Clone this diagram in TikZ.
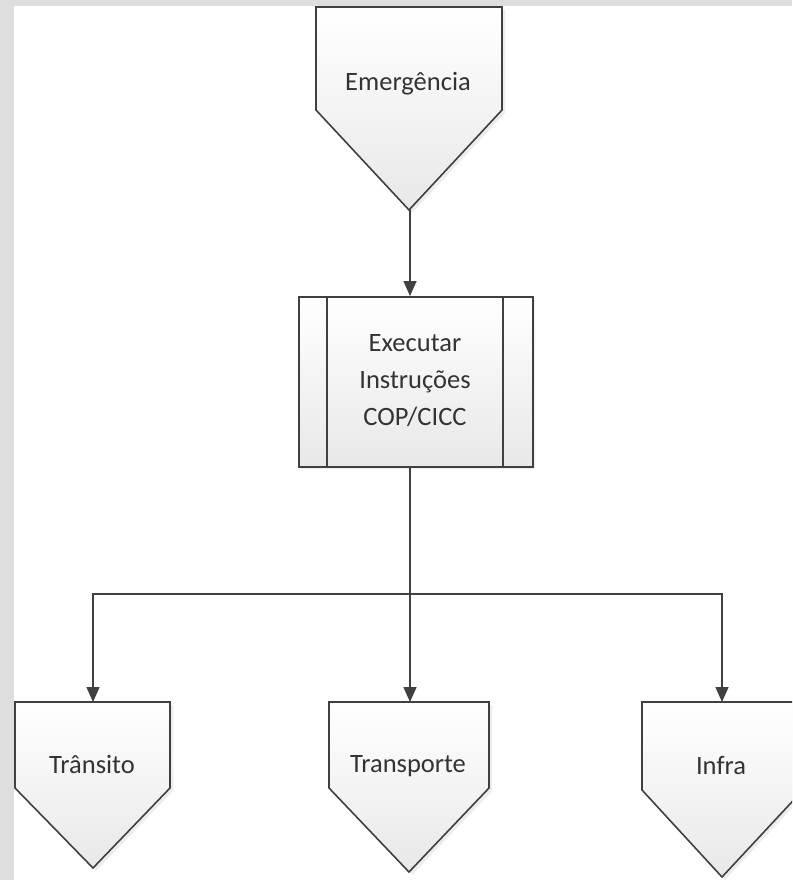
\documentclass[tikz,border=0pt]{standalone}
\usepackage{fontspec}
\setmainfont{Carlito}
\usetikzlibrary{arrows.meta}
\definecolor{edge}{HTML}{404040}
\definecolor{txt}{HTML}{333333}
\begin{document}
\begin{tikzpicture}[x=1pt,y=-1pt,
  blockfill/.style={top color=white,bottom color=black!9,draw=edge,line width=1.6pt,line join=miter},
  dropshade/.style={fill=black!7},
  label/.style={font=\fontsize{26.5}{37}\selectfont,text=txt,align=center,inner sep=0pt},
  wire/.style={draw=edge,line width=1.6pt},
  link/.style={wire,-{Triangle[length=15pt,width=13pt]}}]
  \useasboundingbox (0,0) rectangle (792,880);
  \clip (0,0) rectangle (792,880);
  % page backdrop
  \fill[black!13] (0,0) rectangle (792,880);
  \fill[white] (14,6) rectangle (792,880);

  % soft drop shadows
  \begin{scope}[shift={(3,3)}]
    \fill[dropshade] (316,7) -- (502,7) -- (502,110) -- (409,210) -- (316,110) -- cycle;
    \fill[dropshade] (298,296) rectangle (532,466);
    \fill[dropshade] (15,702) -- (170,702) -- (170,788) -- (93,868) -- (15,788) -- cycle;
    \fill[dropshade] (329,702) -- (489,702) -- (489,788) -- (409,872) -- (329,788) -- cycle;
    \fill[dropshade] (642,702) -- (803,702) -- (803,790) -- (722,877) -- (642,790) -- cycle;
  \end{scope}

  % start block
  \path[blockfill] (316,7) -- (502,7) -- (502,110) -- (409,210) -- (316,110) -- cycle;
  \node[label] (emerg) at (408,84) {Emergência};
  \coordinate (emTip) at (410,210);

  % predefined process
  \node[blockfill,minimum width=234pt,minimum height=170pt,inner sep=0pt,anchor=north west] (proc) at (298,296) {};
  \draw[wire] (327,296) -- (327,466);
  \draw[wire] (503,296) -- (503,466);
  \node[label] (proctext) at (415,381) {Executar\\Instruções\\COP/CICC};

  % off-page targets
  \path[blockfill] (15,702) -- (170,702) -- (170,788) -- (93,868) -- (15,788) -- cycle;
  \node[label] (transito) at (92,764) {Trânsito};
  \coordinate (trTop) at (93,702);

  \path[blockfill] (329,702) -- (489,702) -- (489,788) -- (409,872) -- (329,788) -- cycle;
  \node[label] (transporte) at (408,766) {Transporte};
  \coordinate (tpTop) at (410,702);

  \path[blockfill] (642,702) -- (803,702) -- (803,790) -- (722,877) -- (642,790) -- cycle;
  \node[label] (infra) at (721,766) {Infra};
  \coordinate (inTop) at (722,702);

  % connectors
  \draw[link] (emTip) -- (emTip |- proc.north);
  \coordinate (procOut) at (proc.south -| emTip);
  \coordinate (hub) at (410,594);
  \draw[link] (procOut) -- (tpTop);
  \draw[link] (hub) -| (trTop);
  \draw[link] (hub) -| (inTop);
\end{tikzpicture}
\end{document}
